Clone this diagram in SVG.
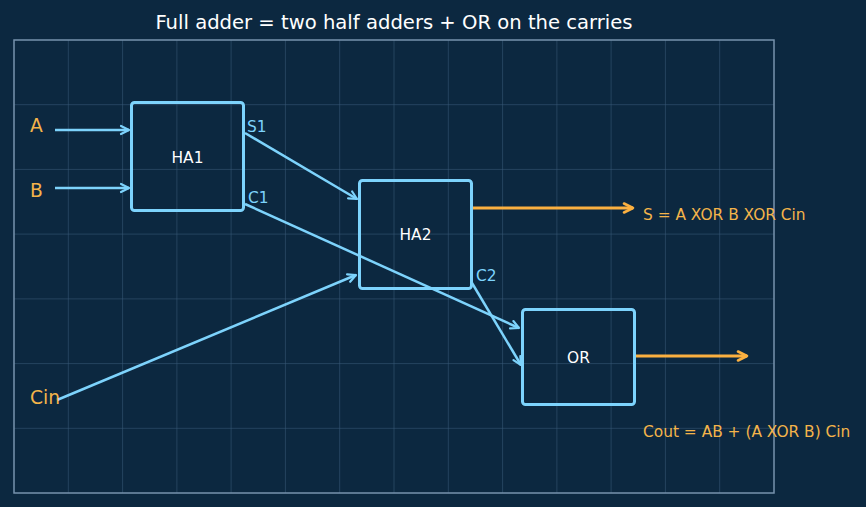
<svg xmlns="http://www.w3.org/2000/svg" width="866" height="507" viewBox="0 0 866 507">
<defs>
<style>
.grid{stroke:#3a5a78;stroke-width:0.8;opacity:0.7}
.frame{fill:none;stroke:#7792ad;stroke-width:1.5}
.box{fill:none;stroke:#7dd3fc;stroke-width:3}
.blue{fill:none;stroke:#7dd3fc;stroke-width:2.5}
.orange{fill:none;stroke:#fbb040;stroke-width:3}
.t{font-family:"DejaVu Sans",sans-serif}
.node{font-size:15.4px;fill:#ffffff;text-anchor:middle}
.in{font-size:18.7px;fill:#f4b44a}
.port{font-size:15.4px;fill:#7dd3fc}
.eq{font-size:15.4px;fill:#f4b44a}
</style>
<marker id="ab" viewBox="0 0 12 12" refX="10" refY="6" markerWidth="12" markerHeight="12" markerUnits="userSpaceOnUse" orient="auto">
<path d="M2,2 L10,6 L2,10" fill="none" stroke="#7dd3fc" stroke-width="2.2" stroke-linecap="round" stroke-linejoin="round"/>
</marker>
<marker id="ao" viewBox="0 0 14 14" refX="12" refY="7" markerWidth="14" markerHeight="14" markerUnits="userSpaceOnUse" orient="auto">
<path d="M3,2.5 L12,7 L3,11.5" fill="none" stroke="#fbb040" stroke-width="2.6" stroke-linecap="round" stroke-linejoin="round"/>
</marker>
</defs>
<rect width="866" height="507" fill="#0c2840"/>
<g id="grid">
<path class="grid" d="M68.3,40V493M122.6,40V493M176.9,40V493M231.1,40V493M285.4,40V493M339.7,40V493M394,40V493M448.3,40V493M502.6,40V493M556.9,40V493M611.1,40V493M665.4,40V493M719.7,40V493"/>
<path class="grid" d="M14,104.7H774M14,169.4H774M14,234.1H774M14,298.9H774M14,363.6H774M14,428.3H774"/>
<rect class="frame" x="14" y="40" width="760" height="453"/>
</g>
<text class="t" x="394" y="29" font-size="19.6" fill="#ffffff" text-anchor="middle">Full adder = two half adders + OR on the carries</text>
<g id="connectors">
<line class="blue" x1="55" y1="130" x2="129" y2="130" marker-end="url(#ab)"/>
<line class="blue" x1="55" y1="188" x2="129" y2="188" marker-end="url(#ab)"/>
<line class="blue" x1="245" y1="133" x2="357" y2="199" marker-end="url(#ab)"/>
<line class="blue" x1="245" y1="204" x2="519" y2="328" marker-end="url(#ab)"/>
<line class="blue" x1="57" y1="400" x2="356" y2="275" marker-end="url(#ab)"/>
<line class="blue" x1="472" y1="283" x2="521" y2="365" marker-end="url(#ab)"/>
<line class="orange" x1="472" y1="208" x2="633" y2="208" marker-end="url(#ao)"/>
<line class="orange" x1="635" y1="356" x2="747" y2="356" marker-end="url(#ao)"/>
</g>
<g id="HA1"><rect class="box" x="131.5" y="102.5" width="112" height="108" rx="3"/><text class="t node" x="187.5" y="162.5">HA1</text></g>
<g id="HA2"><rect class="box" x="359.5" y="180.5" width="112" height="108" rx="3"/><text class="t node" x="415.5" y="240">HA2</text></g>
<g id="OR"><rect class="box" x="522.5" y="309.5" width="112" height="95" rx="3"/><text class="t node" x="578.5" y="362.5">OR</text></g>
<g id="labels">
<text class="t in" x="30" y="132">A</text>
<text class="t in" x="30" y="197">B</text>
<text class="t in" x="30" y="404">Cin</text>
<text class="t port" x="247" y="131.5">S1</text>
<text class="t port" x="248" y="202.5">C1</text>
<text class="t port" x="476" y="280.5">C2</text>
<text class="t eq" x="643" y="219.5">S = A XOR B XOR Cin</text>
<text class="t eq" x="643" y="436.5">Cout = AB + (A XOR B) Cin</text>
</g>
</svg>
